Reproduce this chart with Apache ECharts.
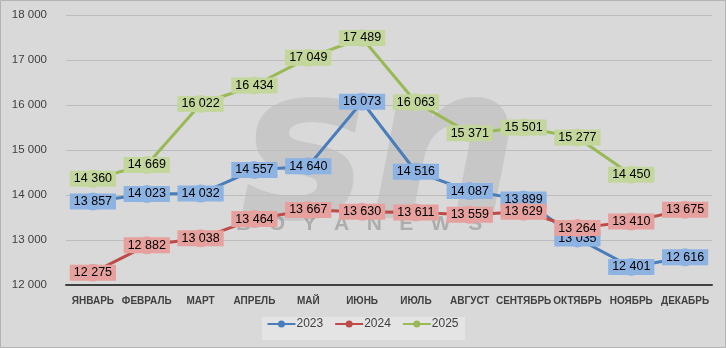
<!DOCTYPE html>
<html>
<head>
<meta charset="utf-8">
<script src="https://cdn.jsdelivr.net/npm/echarts@6/dist/echarts.min.js"></script>
<style>
  html, body { margin: 0; padding: 0; background: #d9d9d9; }
  #chart { width: 726px; height: 348px; }
</style>
</head>
<body>
<div id="chart"></div>
<script>
// Monthly values by year
const months = ['ЯНВАРЬ', 'ФЕВРАЛЬ', 'МАРТ', 'АПРЕЛЬ', 'МАЙ', 'ИЮНЬ', 'ИЮЛЬ', 'АВГУСТ', 'СЕНТЯБРЬ', 'ОКТЯБРЬ', 'НОЯБРЬ', 'ДЕКАБРЬ'];
const years = ['2023', '2024', '2025'];
const values2023 = [13857, 14023, 14032, 14557, 14640, 16073, 14516, 14087, 13899, 13035, 12401, 12616];
const values2024 = [12275, 12882, 13038, 13464, 13667, 13630, 13611, 13559, 13629, 13264, 13410, 13675];
const values2025 = [14360, 14669, 16022, 16434, 17049, 17489, 16063, 15371, 15501, 15277, 14450, null];
const yTicks = { min: 12000, max: 18000, step: 1000 };

const lineColors = ['#4a7ebb', '#be4b48', '#98b954'];
const boxColors = ['#8db3e2', '#e6a09e', '#c3d69b'];

const fmt = v => String(v).replace(/\B(?=(\d{3})+(?!\d))/g, ' ');

function makeSeries(name, data, i) {
  return {
    name: name,
    type: 'line',
    data: data,
    z: 2 + i,
    symbol: 'circle',
    symbolSize: 18,
    itemStyle: { color: boxColors[i] },
    lineStyle: { color: lineColors[i], width: 3 },
    label: {
      show: true,
      position: 'inside',
      formatter: p => fmt(p.value),
      color: '#000',
      fontFamily: 'Liberation Sans',
      fontSize: 12.5,
      backgroundColor: boxColors[i],
      padding: [2, 4, 1, 4]
    },
    emphasis: { disabled: true },
    animation: false
  };
}

const chart = echarts.init(document.getElementById('chart'), null, { renderer: 'canvas' });
chart.setOption({
  backgroundColor: '#d9d9d9',
  animation: false,
  grid: { left: 66, right: 14, top: 15, bottom: 63 },
  graphic: [
    {
      type: 'rect', z: -10, silent: true,
      shape: { x: 0.5, y: 0.5, width: 725, height: 347 },
      style: { fill: 'none', stroke: '#b4b4b4', lineWidth: 1 }
    },
    {
      // site watermark
      type: 'text', z: -5, silent: true, left: 240, top: 55,
      style: {
        text: 'sn', fontSize: 215, fontStyle: 'italic', fontWeight: 'bold',
        fontFamily: 'DejaVu Sans', fill: 'rgba(160,160,160,0.3)'
      }
    },
    {
      type: 'text', z: -5, silent: true, left: 236, top: 214,
      style: {
        text: 'B   O   Y   A   N   E   W   S', fontSize: 21, fontWeight: 'bold',
        fontFamily: 'Liberation Sans', fill: 'rgba(130,130,130,0.5)'
      }
    },
    {
      type: 'rect', z: -1, silent: true,
      shape: { x: 262, y: 317, width: 203, height: 23 },
      style: { fill: '#e4e4e4' }
    }
  ],
  legend: {
    bottom: 13,
    left: 'center',
    itemWidth: 28,
    itemHeight: 8,
    itemGap: 12,
    icon: 'path://M0,3 L28,3 L28,5 L0,5 Z M14,0.5 A3.5,3.5 0 1,1 14,7.5 A3.5,3.5 0 1,1 14,0.5 Z',
    textStyle: { color: '#404040', fontSize: 12, fontFamily: 'Liberation Sans', padding: [0, 0, 0, -4] },
    data: years.map((y, i) => ({ name: y, itemStyle: { color: lineColors[i] } }))
  },
  xAxis: {
    type: 'category',
    data: months,
    boundaryGap: true,
    axisLine: { lineStyle: { color: '#404040', width: 2 } },
    axisTick: { show: false },
    axisLabel: {
      color: '#404040', fontSize: 10, fontWeight: 'bold',
      fontFamily: 'Liberation Sans',
      margin: 11, interval: 0
    }
  },
  yAxis: {
    type: 'value',
    min: yTicks.min,
    max: yTicks.max,
    interval: yTicks.step,
    axisLine: { show: false },
    axisTick: { show: false },
    splitLine: { lineStyle: { color: '#bcbcbc', width: 1 } },
    axisLabel: {
      color: '#404040', fontSize: 11.5, fontFamily: 'Liberation Sans',
      formatter: v => fmt(v), margin: 19
    }
  },
  series: [
    makeSeries(years[0], values2023, 0),
    makeSeries(years[1], values2024, 1),
    makeSeries(years[2], values2025, 2)
  ]
});
</script>
</body>
</html>
